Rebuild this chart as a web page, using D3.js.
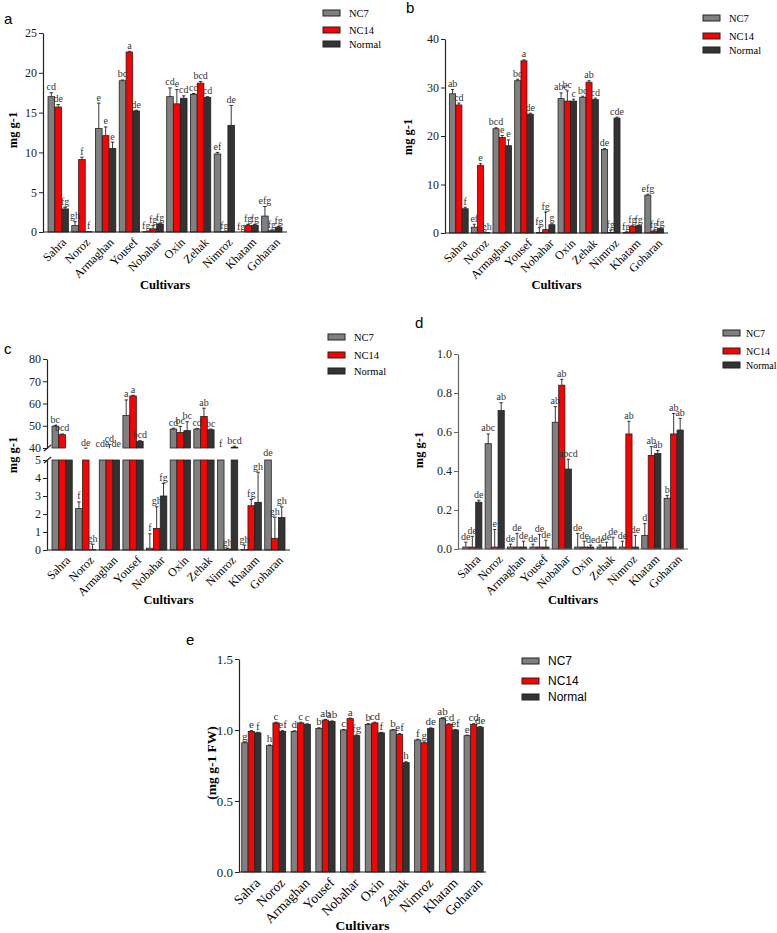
<!DOCTYPE html>
<html>
<head>
<meta charset="utf-8">
<script src="https://cdn.jsdelivr.net/npm/d3@7"></script>
<style>
  body { margin: 0; background: #fff; }
</style>
</head>
<body>
<div id="chart"></div>
<script>
const cultivars = ["Sahra", "Noroz", "Armaghan", "Yousef", "Nobahar", "Oxin", "Zehak", "Nimroz", "Khatam", "Goharan"];
const series = ["NC7", "NC14", "Normal"];
const colors = ["#808080", "#ff0000", "#333333"];

// panel a
const aTicks = [0, 5, 10, 15, 20, 25];
const aVal = [
  [17.0, 0.8, 13.0, 19.0, 0.05, 17.0, 17.3, 9.8, 0.0, 2.0],
  [15.7, 9.1, 12.1, 22.6, 0.4, 16.1, 18.7, 0.05, 0.8, 0.15],
  [2.9, 0.05, 10.5, 15.2, 1.0, 16.8, 16.9, 13.4, 0.85, 0.6]
];
const aErr = [
  [0.5, 0.5, 3.2, 0.1, 0.0, 1.1, 0.1, 0.2, 0.0, 1.2],
  [0.3, 0.3, 1.1, 0.1, 0.4, 1.8, 0.2, 0.0, 0.15, 0.1],
  [0.2, 0.0, 0.8, 0.1, 0.1, 0.3, 0.1, 2.5, 0.1, 0.1]
];
const aLab = [
  ["cd", "gh", "e", "bc", "fg", "cd", "cd", "ef", "fg", "efg"],
  ["de", "f", "e", "a", "fg", "e", "bcd", "fg", "fg", "fg"],
  ["fg", "f", "e", "de", "fg", "cd", "cd", "de", "fg", "fg"]
];

// panel b
const bTicks = [0, 10, 20, 30, 40];
const bVal = [
  [28.7, 1.2, 21.5, 31.4, 0.1, 27.7, 28.0, 17.2, 0.1, 7.8],
  [26.4, 13.9, 19.7, 35.5, 0.7, 27.2, 31.1, 0.1, 1.4, 0.4],
  [5.0, 0.1, 18.0, 24.5, 1.7, 27.2, 27.5, 23.7, 1.5, 0.9]
];
const bErr = [
  [0.9, 0.6, 0.2, 0.3, 1.0, 1.2, 0.2, 0.2, 0.1, 0.2],
  [0.4, 0.4, 0.4, 0.2, 3.6, 2.1, 0.3, 0.5, 0.1, 0.2],
  [0.3, 0.0, 1.2, 0.2, 0.2, 0.4, 0.3, 0.2, 0.1, 0.1]
];
const bLab = [
  ["ab", "ef", "bcd", "bc", "fg", "abc", "bc", "de", "fg", "efg"],
  ["cd", "e", "e", "a", "fg", "bc", "ab", "fg", "fg", "fg"],
  ["f", "gh", "e", "de", "g", "c", "cd", "cde", "fg", "fg"]
];

// panel c (broken axis)
const cTicksLow = [0, 1, 2, 3, 4, 5];
const cTicksHigh = [40, 50, 60, 70, 80];
const cVal = [
  [49.8, 2.3, 36, 54.6, 0.1, 48.5, 48.5, 37, 0.02, 8],
  [46.0, 38, 39, 63.4, 1.2, 47.0, 54.2, 0.05, 2.46, 0.65],
  [30, 0.02, 35, 43.0, 3.0, 47.8, 48.2, 40.3, 2.65, 1.8]
];
const cErr = [
  [0.3, 0.37, 0, 7.0, 0.8, 0.4, 0.3, 0, 0.25, 0],
  [0.3, 1.5, 2.5, 0.3, 1.2, 2.7, 3.7, 0.05, 0.35, 1.17],
  [0, 0.3, 0, 0.3, 0.7, 4.0, 0.3, 0.5, 1.67, 0.6]
];
const cLab = [
  ["bc", "f", "cde", "a", "f", "cd", "cd", "f", "gh", "de"],
  ["bcd", "de", "cd", "a", "gh", "bc", "ab", "gh", "fg", "gh"],
  ["", "gh", "de", "bcd", "fg", "bc", "bc", "bcd", "gh", "gh"]
];

// panel d
const dTicks = [0, 0.2, 0.4, 0.6, 0.8, 1.0];
const dVal = [
  [0.01, 0.54, 0.01, 0.01, 0.65, 0.01, 0.01, 0.01, 0.07, 0.26],
  [0.01, 0.01, 0.01, 0.01, 0.84, 0.01, 0.01, 0.59, 0.48, 0.59],
  [0.24, 0.71, 0.01, 0.01, 0.41, 0.01, 0.01, 0.01, 0.49, 0.61]
];
const dErr = [
  [0.025, 0.05, 0.015, 0.015, 0.08, 0.07, 0.01, 0.03, 0.06, 0.015],
  [0.055, 0.09, 0.07, 0.065, 0.03, 0.03, 0.025, 0.065, 0.045, 0.105],
  [0.01, 0.04, 0.03, 0.035, 0.05, 0.01, 0.05, 0.06, 0.015, 0.06]
];
const dLab = [
  ["de", "abc", "de", "de", "ab", "de", "de", "de", "d", "b"],
  ["de", "e", "de", "de", "ab", "de", "de", "ab", "ab", "ab"],
  ["de", "ab", "de", "de", "abcd", "de", "de", "de", "ab", "ab"]
];

// panel e
const eTicks = [0, 0.5, 1.0, 1.5];
const eVal = [
  [0.91, 0.89, 0.99, 1.01, 1.00, 1.04, 1.00, 0.93, 1.08, 0.96],
  [0.99, 1.05, 1.05, 1.07, 1.08, 1.05, 0.97, 0.91, 1.04, 1.04],
  [0.98, 0.99, 1.04, 1.06, 0.96, 0.98, 0.77, 1.01, 1.00, 1.02]
];
const eErr = [
  [0.005, 0.005, 0.004, 0.006, 0.004, 0.005, 0.004, 0.005, 0.006, 0.004],
  [0.006, 0.005, 0.005, 0.005, 0.004, 0.005, 0.004, 0.006, 0.004, 0.004],
  [0.004, 0.006, 0.004, 0.004, 0.005, 0.004, 0.006, 0.005, 0.004, 0.005]
];
const eLab = [
  ["g", "h", "d", "b", "c", "b", "b", "f", "ab", "e"],
  ["e", "c", "c", "ab", "a", "cd", "ef", "g", "cd", "cd"],
  ["f", "ef", "c", "ab", "fg", "f", "h", "de", "ef", "de"]
];

const SERIF = "'Liberation Serif', 'DejaVu Serif', serif";
const SANS = "'Liberation Sans', Arial, sans-serif";

const svg = d3.select("#chart").append("svg")
  .attr("width", 777).attr("height", 933)
  .style("font-family", SERIF);

function bandScales(o) {
  const x0 = d3.scaleBand().domain(cultivars).range([o.left, o.right])
    .paddingInner(o.pi).paddingOuter(o.po);
  const x1 = d3.scaleBand().domain(series).range([0, x0.bandwidth()]).padding(0.04);
  return [x0, x1];
}

function rows(vals, errs, labs) {
  const out = [];
  series.forEach((s, si) => cultivars.forEach((c, ci) => {
    out.push({ c, s, si, v: vals[si][ci], e: errs[si][ci], lab: labs[si][ci] });
  }));
  return out;
}

function drawCommon(g, o, x0, x1, y, data) {
  // error bars
  const eb = g.selectAll(".err").data(data.filter(d => d.e > 0)).enter().append("g");
  eb.append("line")
    .attr("x1", d => x0(d.c) + x1(d.s) + x1.bandwidth() / 2)
    .attr("x2", d => x0(d.c) + x1(d.s) + x1.bandwidth() / 2)
    .attr("y1", d => y(d.v)).attr("y2", d => y(d.v + d.e))
    .attr("stroke", "#222").attr("stroke-width", 0.9);
  eb.append("line")
    .attr("x1", d => x0(d.c) + x1(d.s) + 1.5)
    .attr("x2", d => x0(d.c) + x1(d.s) + x1.bandwidth() - 1.5)
    .attr("y1", d => y(d.v + d.e)).attr("y2", d => y(d.v + d.e))
    .attr("stroke", "#222").attr("stroke-width", 0.9);

  g.selectAll(".lab").data(data.filter(d => d.lab)).enter().append("text")
    .attr("x", d => x0(d.c) + x1(d.s) + x1.bandwidth() / 2)
    .attr("y", d => y(d.v + d.e) - 2.5)
    .attr("text-anchor", "middle")
    .style("font-size", (o.labSize || 10) + "px")
    .attr("fill", "#333")
    .text(d => d.lab);

  // x axis line + rotated labels
  g.append("line").attr("x1", o.left).attr("x2", o.right)
    .attr("y1", o.bottom).attr("y2", o.bottom)
    .attr("stroke", o.axisColor || "#222").attr("stroke-width", 1.2);
  g.selectAll(".xl").data(cultivars).enter().append("text")
    .attr("transform", d => `translate(${x0(d) + x0.bandwidth() / 2 + 3},${o.bottom + 5}) rotate(-45)`)
    .attr("text-anchor", "end")
    .attr("dy", "0.7em")
    .style("font-size", (o.xSize || 12) + "px")
    .text(d => d);

  g.append("text")
    .attr("x", (o.left + o.right) / 2).attr("y", o.xTitleY)
    .attr("text-anchor", "middle").attr("font-weight", "bold")
    .style("font-size", (o.titleSize || 12.5) + "px")
    .text("Cultivars");
  g.append("text")
    .attr("transform", `translate(${o.yTitleX},${o.yTitleY}) rotate(-90)`)
    .attr("text-anchor", "middle").attr("font-weight", "bold")
    .style("font-size", (o.titleSize || 12.5) + "px")
    .text(o.yTitle);

  g.append("text").attr("x", o.letterX).attr("y", o.letterY)
    .style("font-family", SANS).style("font-size", "15px")
    .text(o.letter);

  // legend
  const lg = g.append("g");
  const dx = o.legDx || 26;
  series.forEach((s, i) => {
    lg.append("rect").attr("x", o.legX).attr("y", o.legY[i] - 3)
      .attr("width", 17).attr("height", 6)
      .attr("fill", colors[i]).attr("stroke", "#222").attr("stroke-width", 1);
    lg.append("text").attr("x", o.legX + dx).attr("y", o.legY[i])
      .attr("dy", "0.35em")
      .style("font-size", (o.legSize || 10.5) + "px")
      .style("font-family", o.legFont || SERIF)
      .text(s);
  });
}

function styleAxis(ax, color, size) {
  ax.selectAll("path").attr("stroke", color).attr("stroke-width", 1.2);
  ax.selectAll("line").attr("stroke", color);
  ax.selectAll("text").attr("font-family", null)
    .style("font-family", SERIF).style("font-size", (size || 12) + "px").attr("fill", "#222");
}

function panel(o, vals, errs, labs) {
  const g = svg.append("g");
  const [x0, x1] = bandScales(o);
  const y = d3.scaleLinear().domain([o.ticks[0], o.ticks[o.ticks.length - 1]])
    .range([o.bottom, o.top]);
  const data = rows(vals, errs, labs);

  g.selectAll(".bar").data(data).enter().append("rect")
    .attr("x", d => x0(d.c) + x1(d.s))
    .attr("width", x1.bandwidth())
    .attr("y", d => y(d.v))
    .attr("height", d => y(0) - y(d.v))
    .attr("fill", d => colors[d.si])
    .attr("stroke", "#222").attr("stroke-width", 0.8);

  drawCommon(g, o, x0, x1, y, data);

  const ax = g.append("g").attr("transform", `translate(${o.left},0)`)
    .call(d3.axisLeft(y).tickValues(o.ticks).tickFormat(o.fmt || d3.format("d"))
      .tickSize(4).tickSizeOuter(0).tickPadding(2));
  styleAxis(ax, o.axisColor || "#222", o.ySize);
}

function panelBroken(o, vals, errs, labs) {
  const g = svg.append("g");
  const [x0, x1] = bandScales(o);
  const yLow = d3.scaleLinear().domain([0, 5]).range([o.bottom, o.lowTop]);
  const yHigh = d3.scaleLinear().domain([40, 80]).range([o.highBottom, o.top]);
  const yGap = d3.scaleLinear().domain([5, 40]).range([o.lowTop, o.highBottom]);
  const y = v => v <= 5 ? yLow(v) : (v >= 40 ? yHigh(v) : yGap(v));
  const data = rows(vals, errs, labs);

  g.selectAll(".barL").data(data).enter().append("rect")
    .attr("x", d => x0(d.c) + x1(d.s))
    .attr("width", x1.bandwidth())
    .attr("y", d => yLow(Math.min(d.v, 5)))
    .attr("height", d => yLow(0) - yLow(Math.min(d.v, 5)))
    .attr("fill", d => colors[d.si])
    .attr("stroke", "#222").attr("stroke-width", 0.8);
  g.selectAll(".barH").data(data.filter(d => d.v > 40)).enter().append("rect")
    .attr("x", d => x0(d.c) + x1(d.s))
    .attr("width", x1.bandwidth())
    .attr("y", d => yHigh(d.v))
    .attr("height", d => yHigh(40) - yHigh(d.v))
    .attr("fill", d => colors[d.si])
    .attr("stroke", "#222").attr("stroke-width", 0.8);

  drawCommon(g, o, x0, x1, y, data);

  const axL = g.append("g").attr("transform", `translate(${o.left},0)`)
    .call(d3.axisLeft(yLow).tickValues(cTicksLow).tickFormat(d3.format("d"))
      .tickSize(4).tickSizeOuter(0).tickPadding(2));
  styleAxis(axL, "#222");
  const axH = g.append("g").attr("transform", `translate(${o.left},0)`)
    .call(d3.axisLeft(yHigh).tickValues(cTicksHigh).tickFormat(d3.format("d"))
      .tickSize(4).tickSizeOuter(0).tickPadding(2));
  styleAxis(axH, "#222");

  // break marks
  [o.highBottom, o.lowTop].forEach(yy => {
    g.append("line").attr("x1", o.left - 3).attr("x2", o.left + 4)
      .attr("y1", yy + 3).attr("y2", yy - 3)
      .attr("stroke", "#222").attr("stroke-width", 1.2);
  });
}

panel({
  left: 43, right: 287, top: 33, bottom: 232, pi: 0.12, po: 0.2,
  ticks: aTicks, xTitleY: 289, yTitleX: 17, yTitleY: 130, yTitle: "mg g-1",
  letter: "a", letterX: 4, letterY: 24, legX: 323, legY: [13, 30, 44]
}, aVal, aErr, aLab);

panel({
  left: 445, right: 668, top: 39, bottom: 233, pi: 0.12, po: 0.2,
  ticks: bTicks, xTitleY: 289, yTitleX: 412, yTitleY: 137, yTitle: "mg g-1",
  letter: "b", letterX: 406, letterY: 13, legX: 703, legY: [18, 36, 50]
}, bVal, bErr, bLab);

panelBroken({
  left: 47, right: 290, top: 359, highBottom: 448, lowTop: 460, bottom: 550,
  pi: 0.12, po: 0.2, xTitleY: 604, yTitleX: 17, yTitleY: 455, yTitle: "mg g-1",
  letter: "c", letterX: 4, letterY: 354, legX: 328, legY: [337, 355, 371]
}, cVal, cErr, cLab);

panel({
  left: 458, right: 688, top: 354, bottom: 549, pi: 0.12, po: 0.2,
  ticks: dTicks, fmt: d3.format(".1f"), axisColor: "#666",
  xTitleY: 604, yTitleX: 423, yTitleY: 450, yTitle: "mg g-1",
  letter: "d", letterX: 415, letterY: 328, legX: 723, legDx: 23, legSize: 10,
  legY: [333, 351, 365]
}, dVal, dErr, dLab);

panel({
  left: 239, right: 486, top: 659, bottom: 872, pi: 0.2, po: 0.1,
  ticks: eTicks, fmt: d3.format(".1f"), xSize: 13.5, ySize: 13, labSize: 11, titleSize: 13.5,
  xTitleY: 930, yTitleX: 216, yTitleY: 763, yTitle: "(mg g-1 FW)",
  letter: "e", letterX: 186, letterY: 645, legX: 522, legY: [661, 681, 697],
  legFont: SANS, legSize: 12
}, eVal, eErr, eLab);
</script>
</body>
</html>
